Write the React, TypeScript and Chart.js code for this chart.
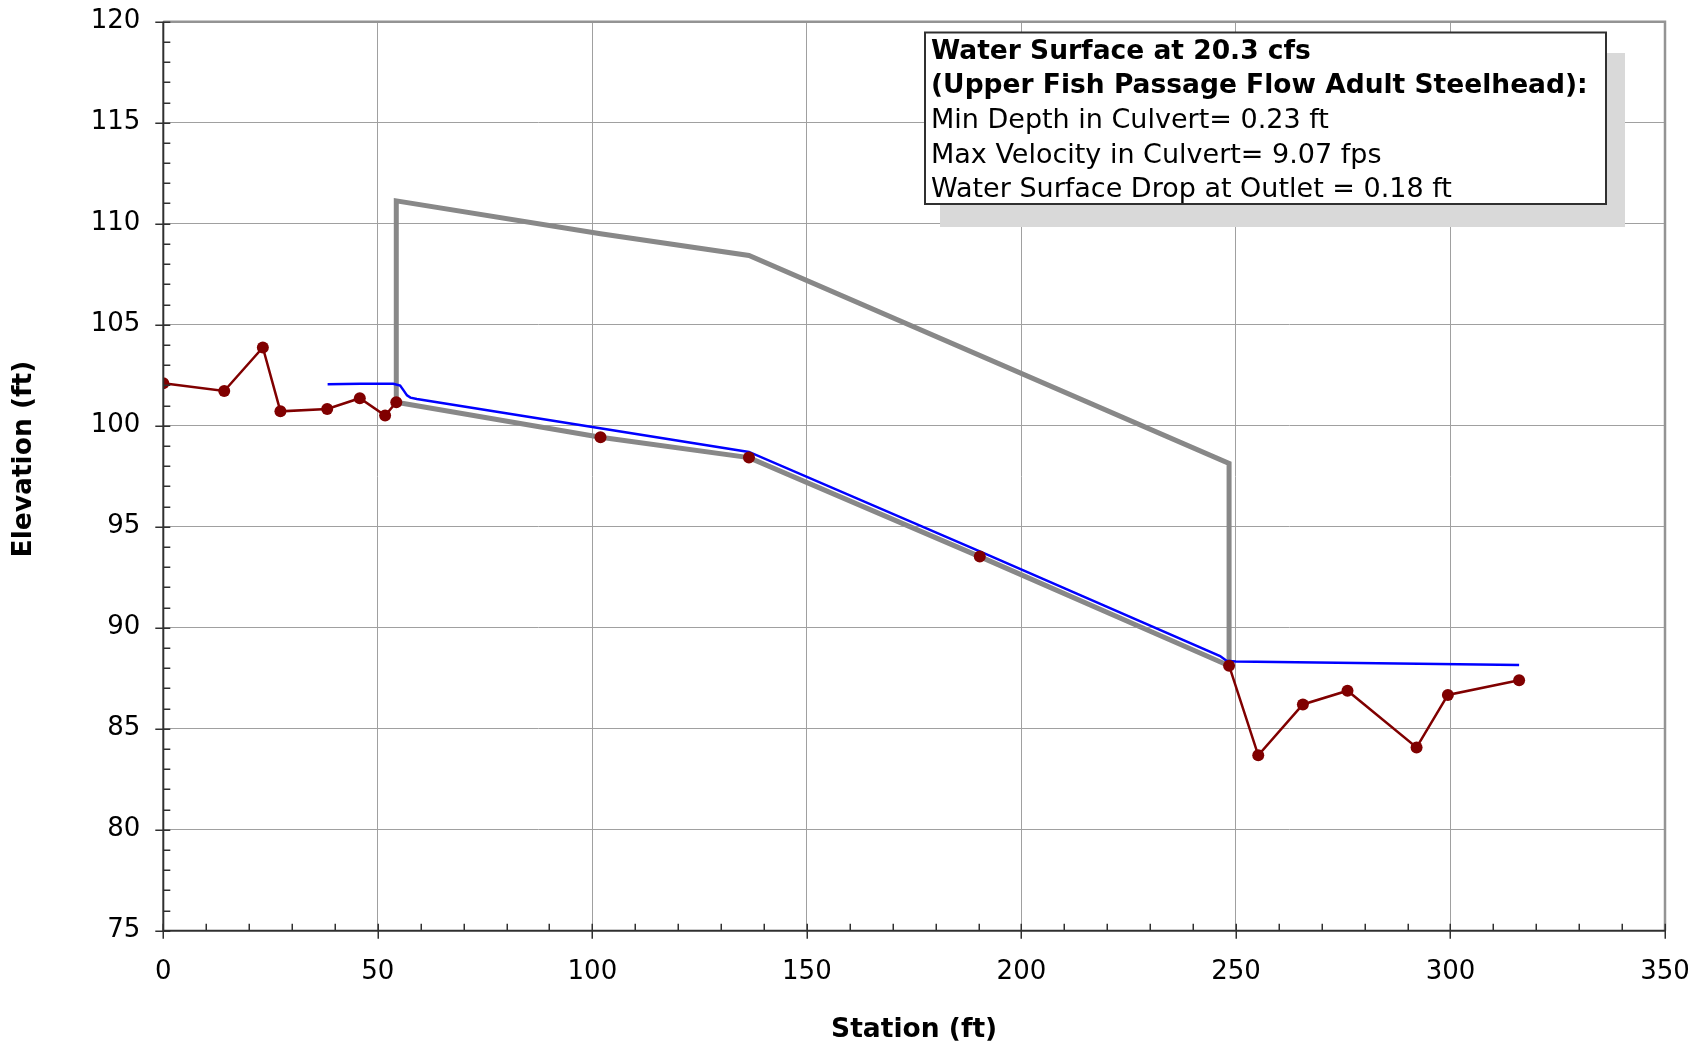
import React, { useEffect, useRef } from "react";
import { Chart, registerables } from "chart.js";

Chart.register(...registerables);

// ---- Data ----
const groundStation = [0, 14.2, 23.2, 27.3, 38.2, 45.8, 51.7, 54.3, 101.9, 136.5, 190.3, 248.4, 255.2, 265.6, 276.0, 292.1, 299.4, 316.0];
const groundElevation = [102.1, 101.72, 103.87, 100.71, 100.83, 101.36, 100.5, 101.16, 99.43, 98.42, 93.52, 88.12, 83.68, 86.2, 86.88, 84.07, 86.67, 87.4];

const waterStation = [38.3, 46, 53.6, 55.2, 56.0, 56.8, 57.6, 59.1, 136.5, 190.3, 246.3, 247.8, 250, 316];
const waterElevation = [102.05, 102.08, 102.08, 101.99, 101.75, 101.5, 101.39, 101.32, 98.7, 93.78, 88.6, 88.36, 88.33, 88.15];

const culvertStation = [54.3, 54.3, 101.9, 136.5, 248.4, 248.4, 190.3, 136.5, 101.9, 54.3];
const culvertElevation = [101.16, 111.13, 109.5, 108.43, 98.13, 88.12, 93.52, 98.42, 99.43, 101.16];

const xMin = 0, xMax = 350, xMajorStep = 50, xMinorStep = 10;
const yMin = 75, yMax = 120, yMajorStep = 5, yMinorStep = 1;

const xTitle = "Station (ft)";
const yTitle = "Elevation (ft)";
const noteBold = ["Water Surface at 20.3 cfs", "(Upper Fish Passage Flow Adult Steelhead):"];
const noteLines = ["Min Depth in Culvert= 0.23 ft", "Max Velocity in Culvert= 9.07 fps", "Water Surface Drop at Outlet = 0.18 ft"];

const FONT = "'DejaVu Sans', Verdana, sans-serif";

const toPoints = (xs: number[], ys: number[]) => xs.map((x, i) => ({ x, y: ys[i] }));

const decorPlugin = {
  id: "decor",
  afterDraw(chart: any) {
    const { ctx, chartArea: ca, scales } = chart;
    const xs = scales.x;
    const ys = scales.y;
    ctx.save();
    // frame top/right
    ctx.strokeStyle = "#949494";
    ctx.lineWidth = 2.5;
    ctx.beginPath();
    ctx.moveTo(ca.left, ca.top);
    ctx.lineTo(ca.right, ca.top);
    ctx.lineTo(ca.right, ca.bottom);
    ctx.stroke();
    // axis lines
    ctx.strokeStyle = "#303030";
    ctx.lineWidth = 2;
    ctx.beginPath();
    ctx.moveTo(ca.left, ca.top);
    ctx.lineTo(ca.left, ca.bottom);
    ctx.lineTo(ca.right, ca.bottom);
    ctx.stroke();
    // tick marks
    ctx.lineWidth = 1.5;
    ctx.beginPath();
    for (let v = yMin; v <= yMax; v += yMinorStep) {
      const py = Math.round(ys.getPixelForValue(v)) + 0.25;
      const major = v % yMajorStep === 0;
      ctx.moveTo(ca.left - (major ? 8 : 0), py);
      ctx.lineTo(ca.left + 7, py);
    }
    for (let v = xMin; v <= xMax; v += xMinorStep) {
      const px = Math.round(xs.getPixelForValue(v)) + 0.25;
      const major = v % xMajorStep === 0;
      ctx.moveTo(px, ca.bottom - 7);
      ctx.lineTo(px, ca.bottom + (major ? 8 : 0));
    }
    ctx.stroke();

    // axis titles
    ctx.fillStyle = "#000";
    ctx.font = `bold 26.5px ${FONT}`;
    ctx.textAlign = "center";
    ctx.textBaseline = "middle";
    ctx.fillText(xTitle, (ca.left + ca.right) / 2, 1030);
    ctx.save();
    ctx.translate(24, 459);
    ctx.rotate(-Math.PI / 2);
    ctx.fillText(yTitle, 0, 0);
    ctx.restore();

    // note box
    ctx.fillStyle = "#d9d9d9";
    ctx.fillRect(940, 53, 685, 174);
    ctx.fillStyle = "#ffffff";
    ctx.fillRect(925, 32.5, 681, 171.5);
    ctx.strokeStyle = "#303030";
    ctx.lineWidth = 2;
    ctx.strokeRect(925, 32.5, 681, 171.5);
    ctx.fillStyle = "#000";
    ctx.textAlign = "left";
    ctx.textBaseline = "middle";
    const lineYs = [52, 86.5, 121, 155.7, 190.3];
    let k = 0;
    ctx.font = `bold 26.5px ${FONT}`;
    noteBold.forEach((t) => { ctx.fillText(t, 931, lineYs[k++]); });
    ctx.font = `27px ${FONT}`;
    noteLines.forEach((t) => { ctx.fillText(t, 931, lineYs[k++]); });
    ctx.restore();
  },
};

export default function App() {
  const ref = useRef<HTMLCanvasElement | null>(null);
  useEffect(() => {
    if (!ref.current) return;
    const chart = new Chart(ref.current, {
      type: "line",
      data: {
        datasets: [
          {
            label: "Ground points",
            data: toPoints(groundStation, groundElevation),
            showLine: false,
            pointRadius: 6,
            pointBackgroundColor: "#800000",
            pointBorderColor: "#800000",
            pointBorderWidth: 0,
            borderColor: "#800000",
            order: 0,
          },
          {
            label: "Water Surface",
            data: toPoints(waterStation, waterElevation),
            borderColor: "#0000ff",
            borderWidth: 2.5,
            pointRadius: 0,
            tension: 0,
            fill: false,
            order: 1,
          },
          {
            label: "Culvert",
            data: toPoints(culvertStation, culvertElevation),
            borderColor: "#888888",
            borderWidth: 5,
            borderJoinStyle: "miter",
            pointRadius: 0,
            tension: 0,
            fill: false,
            order: 2,
          },
          {
            label: "Ground",
            data: toPoints(groundStation, groundElevation),
            borderColor: "#800000",
            borderWidth: 2.5,
            pointRadius: 0,
            tension: 0,
            fill: false,
            order: 3,
          },
        ],
      },
      options: {
        responsive: false,
        maintainAspectRatio: false,
        animation: false,
        layout: { padding: { top: 21.7, right: 31, left: 0, bottom: 0 } },
        plugins: { legend: { display: false }, tooltip: { enabled: false } },
        scales: {
          x: {
            type: "linear",
            min: xMin,
            max: xMax,
            ticks: { stepSize: xMajorStep, font: { family: FONT, size: 26 }, color: "#000", padding: 26, maxRotation: 0 },
            grid: { color: "#a0a0a0", lineWidth: 1, drawTicks: false },
            border: { display: false },
            afterFit: (s: any) => {
              s.height = 116.3;
              s.paddingLeft = 0;
              s.paddingRight = 0;
              s.paddingTop = 0;
              s.paddingBottom = 0;
            },
          },
          y: {
            type: "linear",
            min: yMin,
            max: yMax,
            ticks: { stepSize: yMajorStep, font: { family: FONT, size: 26 }, color: "#000", padding: 23 },
            grid: { color: "#a0a0a0", lineWidth: 1, drawTicks: false },
            border: { display: false },
            afterFit: (s: any) => {
              s.width = 163.3;
              s.paddingLeft = 0;
              s.paddingRight = 0;
              s.paddingTop = 0;
              s.paddingBottom = 0;
            },
          },
        },
      },
      plugins: [decorPlugin],
    } as any);
    return () => chart.destroy();
  }, []);
  return (
    <div style={{ position: "absolute", left: 0, top: 0, width: 1696, height: 1047, background: "#fff" }}>
      <canvas ref={ref} width={1696} height={1047} style={{ display: "block" }} />
    </div>
  );
}
